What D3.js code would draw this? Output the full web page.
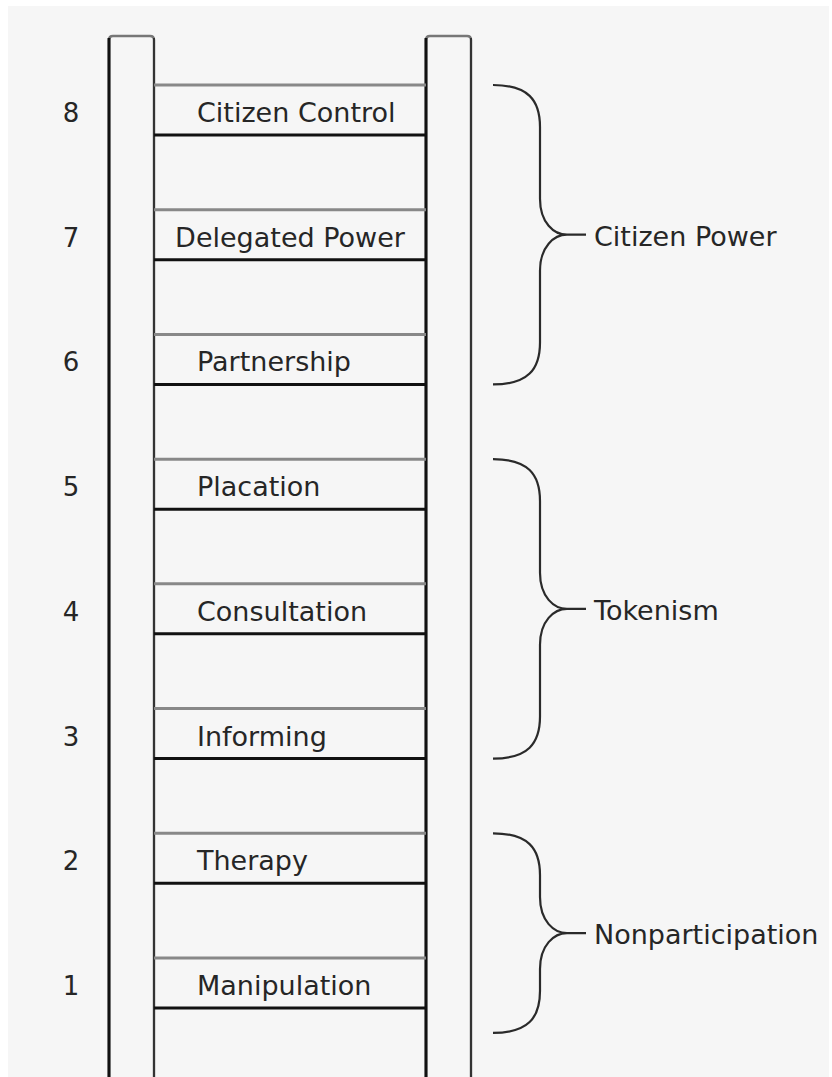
<!DOCTYPE html>
<meta charset="utf-8">

<script src="https://d3js.org/d3.v7.min.js"></script>

<style>
  body { margin: 0; background: white; }
  text { font-family: "DejaVu Sans", sans-serif; fill: #262626; }
</style>

<div id="ladder"></div>

<script>
  // rungs of the ladder, bottom to top
  const steps = [1, 2, 3, 4, 5, 6, 7, 8];
  const rungLabels = ["Manipulation", "Therapy", "Informing", "Consultation",
    "Placation", "Partnership", "Delegated Power", "Citizen Control"];

  // groups shown with a brace on the right (top step, bottom step)
  const groupLabels = ["Citizen Power", "Tokenism", "Nonparticipation"];
  const groupTop = [8, 5, 2];
  const groupBottom = [6, 3, 0.8];

  const width = 832, height = 1077;

  const svg = d3.select("#ladder")
    .append("svg")
    .attr("width", width)
    .attr("height", height);

  // light grey panel with a thin white frame
  svg.append("rect")
    .attr("x", 8).attr("y", 6)
    .attr("width", 821).attr("height", height - 6)
    .attr("fill", "#f6f6f6");

  // y position of the top edge of each rung
  const y = d3.scaleLinear()
    .domain([8, 1])
    .range([85, 958]);
  const rungH = 50;

  const railLeft = 109, railRight = 426, railW = 45;
  const rungX0 = railLeft + railW, rungX1 = railRight;

  // the two rails
  [railLeft, railRight].forEach(function (x0) {
    const x1 = x0 + railW;
    svg.append("path")
      .attr("d", `M${x0},${height + 5} L${x0},40 Q${x0},36 ${x0 + 4},36 L${x1 - 4},36 Q${x1},36 ${x1},40 L${x1},${height + 5}`)
      .attr("fill", "none")
      .attr("stroke", "#777")
      .attr("stroke-width", 2.5);
    svg.append("line")
      .attr("x1", x0).attr("x2", x0)
      .attr("y1", 38).attr("y2", height + 5)
      .attr("stroke", "#111")
      .attr("stroke-width", 3);
    svg.append("line")
      .attr("x1", x1).attr("x2", x1)
      .attr("y1", 38).attr("y2", height + 5)
      .attr("stroke", "#333")
      .attr("stroke-width", 2);
  });

  const rungs = svg.append("g")
    .selectAll("g")
    .data(steps)
    .join("g");

  // grey top edge and black bottom edge of each rung
  rungs.append("line")
    .attr("x1", rungX0).attr("x2", rungX1)
    .attr("y1", d => y(d)).attr("y2", d => y(d))
    .attr("stroke", "#888")
    .attr("stroke-width", 3);
  rungs.append("line")
    .attr("x1", rungX0).attr("x2", rungX1)
    .attr("y1", d => y(d) + rungH).attr("y2", d => y(d) + rungH)
    .attr("stroke", "#111")
    .attr("stroke-width", 3);

  // rung names, centred in the rung when too long to fit
  rungs.append("text")
    .attr("x", 197)
    .attr("y", d => y(d) + 37)
    .attr("font-size", 27)
    .text((d, i) => rungLabels[i])
    .each(function () {
      const w = this.getComputedTextLength();
      if (197 + w > rungX1 - 14) d3.select(this).attr("x", (rungX0 + rungX1) / 2 - w / 2);
    });

  // step numbers
  rungs.append("text")
    .attr("x", 71)
    .attr("y", d => y(d) + 37)
    .attr("text-anchor", "middle")
    .attr("font-size", 26)
    .text(d => d);

  // curly braces for the groups
  const bx0 = 493, bxv = 540, bxt = 567, bxs = 586;
  const braces = svg.append("g")
    .selectAll("g")
    .data(groupLabels)
    .join("g");

  braces.append("path")
    .attr("d", function (d, i) {
      const y0 = y(groupTop[i]), y1 = y(groupBottom[i]) + rungH, ym = (y0 + y1) / 2;
      return `M${bx0},${y0} C${bx0 + 35},${y0} ${bxv},${y0 + 15} ${bxv},${y0 + 42}` +
        ` L${bxv},${ym - 36} C${bxv},${ym - 12} ${bxv + 14},${ym} ${bxt},${ym}` +
        ` L${bxs},${ym} M${bxt},${ym} C${bxv + 14},${ym} ${bxv},${ym + 12} ${bxv},${ym + 36}` +
        ` L${bxv},${y1 - 42} C${bxv},${y1 - 15} ${bx0 + 35},${y1} ${bx0},${y1}`;
    })
    .attr("fill", "none")
    .attr("stroke", "#2a2a2a")
    .attr("stroke-width", 2.2);

  braces.append("text")
    .attr("x", 594)
    .attr("y", (d, i) => (y(groupTop[i]) + y(groupBottom[i]) + rungH) / 2 + 11)
    .attr("font-size", 27)
    .text(d => d);

  // white strip on the right edge, covering overflowing text
  svg.append("rect")
    .attr("x", 829).attr("y", 0)
    .attr("width", 10).attr("height", height)
    .attr("fill", "white");
</script>
